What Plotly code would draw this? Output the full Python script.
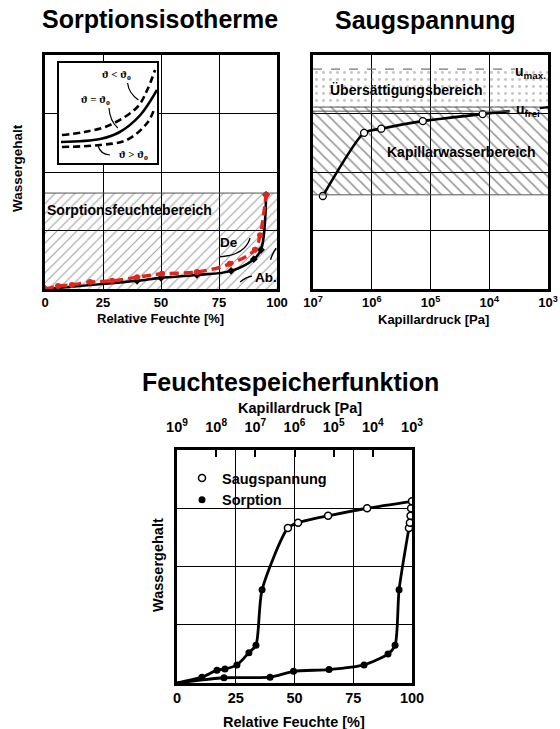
import plotly.graph_objects as go

# ---------------- data ----------------
rh_ticks = [0, 25, 50, 75, 100]
rh_ticktext = ["0", "25", "50", "75", "100"]
pc_ticks = [1e7, 1e6, 1e5, 1e4, 1e3]
pc_ticktext = ["10<sup>7</sup>", "10<sup>6</sup>", "10<sup>5</sup>", "10<sup>4</sup>", "10<sup>3</sup>"]
fsf_pc_ticks = [1e9, 1e8, 1e7, 1e6, 1e5, 1e4, 1e3]
fsf_pc_ticktext = ["10<sup>9</sup>", "10<sup>8</sup>", "10<sup>7</sup>", "10<sup>6</sup>",
                   "10<sup>5</sup>", "10<sup>4</sup>", "10<sup>3</sup>"]
w_grid = [0, 1, 2, 3, 4]
inset_range = [0, 100]

# Sorptionsisotherme: adsorption (Ab.) and desorption (De)
ab_rh = [0, 39.7, 50, 65.5, 80.2, 90, 93.1, 95.3]
ab_w = [0, 0.14, 0.19, 0.24, 0.31, 0.51, 0.67, 1.61]
de_rh = [0, 5.6, 11.6, 19.4, 28.9, 39.7, 50.4, 65.5, 79.7, 90.5, 92.7, 95.3]
de_w = [0, 0.05, 0.07, 0.12, 0.14, 0.20, 0.26, 0.29, 0.43, 0.67, 0.92, 1.61]
sorption_zone = [0, 1.64]

# Inset: temperature dependence
ins_hi_x = [3, 26, 52, 80, 90, 98]
ins_hi_y = [28, 31, 38, 56, 73, 93]
ins_mid_x = [2, 42, 62, 83, 100]
ins_mid_y = [21, 24, 31, 48, 73]
ins_lo_x = [3, 42, 69, 90, 98]
ins_lo_y = [16, 18, 23, 40, 56]

# Saugspannung
saug_p = [6.8e6, 1.35e6, 6.9e5, 1.35e5, 1.3e4]
saug_w = [1.59, 2.67, 2.74, 2.87, 2.99]
saug_end_p = [4.5e3]
saug_end_w = [3.04]
sat_zone = [3.11, 3.76]
cap_zone = [1.61, 3.11]
u_frei = 3.04

# Feuchtespeicherfunktion
left_sorp_rh = [10.6, 17, 20.4, 25.5, 30.6, 33.6, 36.2]
left_sorp_w = [0.10, 0.22, 0.24, 0.31, 0.52, 0.65, 1.60]
left_saug_rh = [47.2, 51.5, 64.3, 80.9]
left_saug_w = [2.66, 2.75, 2.87, 3.00]
right_sorp_rh = [20, 39.6, 49.6, 64.7, 79.6, 89.8, 92.8, 94.5]
right_sorp_w = [0.09, 0.10, 0.20, 0.23, 0.31, 0.50, 0.65, 1.60]
right_saug_rh = [98.7, 99.1, 99.4, 99.6, 100]
right_saug_w = [2.66, 2.75, 2.87, 3.00, 3.12]

# ---------------- figure ----------------
W, H = 560, 729
FONT = "Liberation Sans, Arial, sans-serif"
RED = "#e1261c"


def dx(p):
    return p / W


def dy(p):
    return 1 - p / H


def rect(xr, yr):
    return [xr[0], xr[1], xr[1], xr[0], xr[0]], [yr[0], yr[0], yr[1], yr[1], yr[0]]


fig = go.Figure()

# --- Panel 1 ---
zx, zy = rect([rh_ticks[0], rh_ticks[-1]], sorption_zone)
fig.add_trace(go.Scatter(
    x=zx, y=zy, fill="toself", fillcolor="rgba(0,0,0,0)", mode="lines", line=dict(width=0),
    fillpattern=dict(shape="/", fgcolor="#4a4a4a", size=7, solidity=0.17),
    hoverinfo="skip", showlegend=False, xaxis="x", yaxis="y"))
fig.add_trace(go.Scatter(
    x=ab_rh, y=ab_w, mode="lines+markers", line=dict(color="black", width=2.6, shape="spline"),
    marker=dict(symbol="diamond", size=6, color="black"), showlegend=False, xaxis="x", yaxis="y"))
fig.add_trace(go.Scatter(
    x=de_rh, y=de_w, mode="lines+markers",
    line=dict(color=RED, width=3.4, dash="9px,5px", shape="spline"),
    marker=dict(symbol="circle", size=6, color=RED), showlegend=False, xaxis="x", yaxis="y"))

# --- Inset ---
ix, iy = rect(inset_range, inset_range)
fig.add_trace(go.Scatter(x=ix, y=iy, fill="toself", fillcolor="white", mode="lines",
                         line=dict(width=0), hoverinfo="skip", showlegend=False,
                         xaxis="x5", yaxis="y5"))
for xs, ys, dash in [(ins_hi_x, ins_hi_y, "7px,4px"), (ins_mid_x, ins_mid_y, "solid"),
                     (ins_lo_x, ins_lo_y, "7px,4px")]:
    fig.add_trace(go.Scatter(x=xs, y=ys, mode="lines",
                             line=dict(color="black", width=2.6, dash=dash, shape="spline"),
                             showlegend=False, hoverinfo="skip", xaxis="x5", yaxis="y5"))

# --- Panel 2 ---
sx, sy = rect([pc_ticks[0], pc_ticks[-1]], sat_zone)
fig.add_trace(go.Scatter(
    x=sx, y=sy, fill="toself", fillcolor="rgba(0,0,0,0)", mode="lines", line=dict(width=0),
    fillpattern=dict(shape=".", fgcolor="#8a8a8a", size=7, solidity=0.14),
    hoverinfo="skip", showlegend=False, xaxis="x2", yaxis="y2"))
cx, cy = rect([pc_ticks[0], pc_ticks[-1]], cap_zone)
fig.add_trace(go.Scatter(
    x=cx, y=cy, fill="toself", fillcolor="rgba(0,0,0,0)", mode="lines", line=dict(width=0),
    fillpattern=dict(shape="\\", fgcolor="#333333", size=8, solidity=0.2),
    hoverinfo="skip", showlegend=False, xaxis="x2", yaxis="y2"))
fig.add_trace(go.Scatter(
    x=saug_p + saug_end_p, y=saug_w + saug_end_w, mode="lines",
    line=dict(color="black", width=2.6, shape="spline", smoothing=0.6),
    showlegend=False, hoverinfo="skip", xaxis="x2", yaxis="y2"))
fig.add_trace(go.Scatter(
    x=saug_p, y=saug_w, mode="markers",
    marker=dict(symbol="circle", size=7, color="white", line=dict(color="black", width=1.3)),
    showlegend=False, xaxis="x2", yaxis="y2"))

# --- Panel 3 ---
fig.add_trace(go.Scatter(
    x=[0] + left_sorp_rh + left_saug_rh + right_saug_rh[-1:],
    y=[0] + left_sorp_w + left_saug_w + right_saug_w[-1:], mode="lines",
    line=dict(color="black", width=2.8, shape="spline", smoothing=0.7),
    showlegend=False, hoverinfo="skip", xaxis="x3", yaxis="y3"))
fig.add_trace(go.Scatter(
    x=[0] + right_sorp_rh + right_saug_rh, y=[0] + right_sorp_w + right_saug_w, mode="lines",
    line=dict(color="black", width=2.8, shape="spline", smoothing=0.7),
    showlegend=False, hoverinfo="skip", xaxis="x3", yaxis="y3"))
fig.add_trace(go.Scatter(
    x=left_saug_rh + right_saug_rh, y=left_saug_w + right_saug_w, mode="markers", name="Saugspannung",
    marker=dict(symbol="circle", size=7, color="white", line=dict(color="black", width=1.5)),
    showlegend=True, xaxis="x3", yaxis="y3"))
fig.add_trace(go.Scatter(
    x=left_sorp_rh + right_sorp_rh, y=left_sorp_w + right_sorp_w, mode="markers", name="Sorption",
    marker=dict(symbol="circle", size=7, color="black"),
    showlegend=True, xaxis="x3", yaxis="y3"))
# invisible trace to activate the top pressure axis
fig.add_trace(go.Scatter(x=[fsf_pc_ticks[0], fsf_pc_ticks[-1]], y=[None, None], mode="markers",
                         showlegend=False, hoverinfo="skip", xaxis="x4", yaxis="y3"))

# ---------------- axes ----------------
tick_top = dict(family=FONT, size=13, color="black", weight="bold")
tick_bot = dict(family=FONT, size=14.5, color="black", weight="bold")
common = dict(showline=True, mirror=True, linecolor="black", showgrid=True, gridcolor="black",
              zeroline=False, ticks="", fixedrange=True, automargin=False)
plain = dict(showgrid=False, zeroline=False, fixedrange=True, automargin=False)

fig.update_layout(
    width=W, height=H, margin=dict(l=0, r=0, t=0, b=0, autoexpand=False),
    paper_bgcolor="white", plot_bgcolor="white",
    font=dict(family=FONT, color="black"),
    xaxis=dict(domain=[dx(45), dx(277)], anchor="y", range=[0, 100], tickvals=rh_ticks,
               ticktext=rh_ticktext, tickfont=tick_top, linewidth=2.6, gridwidth=1.3, **common),
    yaxis=dict(domain=[dy(289), dy(55)], anchor="x", range=[0, 4], tickvals=w_grid,
               showticklabels=False, linewidth=2.6, gridwidth=1.3, **common),
    xaxis2=dict(domain=[dx(313), dx(548)], anchor="y2", type="log", range=[7, 3],
                tickvals=pc_ticks, ticktext=pc_ticktext, tickfont=tick_top,
                linewidth=2.6, gridwidth=1.3, **common),
    yaxis2=dict(domain=[dy(289), dy(55)], anchor="x2", range=[0, 4], tickvals=w_grid,
                showticklabels=False, linewidth=2.6, gridwidth=1.3, **common),
    xaxis3=dict(domain=[dx(177), dx(412)], anchor="y3", range=[0, 100], tickvals=rh_ticks,
                ticktext=rh_ticktext, tickfont=tick_bot, linewidth=3, gridwidth=1.4, **common),
    yaxis3=dict(domain=[dy(683), dy(450)], anchor="x3", range=[0, 4], tickvals=w_grid,
                showticklabels=False, linewidth=3, gridwidth=1.4, **common),
    xaxis4=dict(overlaying="x3", anchor="y3", side="top", type="log", range=[9, 3],
                tickvals=fsf_pc_ticks, ticktext=fsf_pc_ticktext, tickfont=tick_bot,
                ticks="inside", ticklen=7, tickwidth=2, tickcolor="black",
                ticklabelstandoff=14, showline=False, **plain),
    xaxis5=dict(domain=[dx(59), dx(157)], anchor="y5", range=inset_range, showline=True, mirror=True,
                linecolor="black", linewidth=2.2, showticklabels=False, ticks="", **plain),
    yaxis5=dict(domain=[dy(163), dy(63)], anchor="x5", range=inset_range, showline=True, mirror=True,
                linecolor="black", linewidth=2.2, showticklabels=False, ticks="", **plain),
    legend=dict(x=dx(182), y=dy(462), xanchor="left", yanchor="top", bgcolor="rgba(0,0,0,0)",
                font=dict(family=FONT, size=14.5, color="black", weight="bold"),
                tracegroupgap=0),
)

# ---------------- shapes ----------------
shapes = [
    dict(type="line", xref="x domain", yref="y", x0=0, x1=1, y0=sorption_zone[1],
         y1=sorption_zone[1], line=dict(color="#555", width=1)),
    dict(type="line", xref="x2 domain", yref="y2", x0=0, x1=0.86, y0=sat_zone[1], y1=sat_zone[1],
         line=dict(color="#777", width=1.2, dash="dash")),
    dict(type="line", xref="x2 domain", yref="y2", x0=0, x1=1, y0=sat_zone[0], y1=sat_zone[0],
         line=dict(color="#555", width=1)),
    dict(type="line", xref="x2 domain", yref="y2", x0=0, x1=0.84, y0=u_frei, y1=u_frei,
         line=dict(color="#555", width=1)),
    dict(type="line", xref="x2 domain", yref="y2", x0=0, x1=1, y0=cap_zone[0], y1=cap_zone[0],
         line=dict(color="#555", width=1)),
    dict(type="line", xref="x2 domain", yref="y2", x0=0.965, x1=1.0, y0=u_frei + 0.05,
         y1=u_frei + 0.07, line=dict(color="black", width=2.2)),
    dict(type="path", xref="x", yref="y", path="M 75.4,0.55 Q 86.2,0.58 88.4,0.87",
         line=dict(color="black", width=1.4)),
    dict(type="path", xref="x", yref="y", path="M 84.1,0.12 Q 86.5,0.2 89.2,0.22",
         line=dict(color="black", width=1.4)),
    dict(type="path", xref="x", yref="y", path="M 97.2,0.5 Q 98.2,0.62 99.6,0.7",
         line=dict(color="black", width=1.4)),
    dict(type="path", xref="x5", yref="y5", path="M 70,80 Q 71,70 81,63",
         line=dict(color="black", width=1.2)),
    dict(type="path", xref="x5", yref="y5", path="M 51,55 Q 52,42 60,35",
         line=dict(color="black", width=1.2)),
    dict(type="path", xref="x5", yref="y5", path="M 40,17 Q 42,9 52,8",
         line=dict(color="black", width=1.2)),
]
fig.update_layout(shapes=shapes)

# ---------------- annotations ----------------
def ann(text, x, y, size, xref="paper", yref="paper", angle=0, family=FONT, bold=True, **kw):
    return dict(text=("<b>%s</b>" % text) if bold else text, x=x, y=y, xref=xref, yref=yref,
                xanchor="center", yanchor="middle", showarrow=False, textangle=angle,
                font=dict(family=family, size=size, color="black"), **kw)


SERIF = "Liberation Serif, DejaVu Serif, serif"
annotations = [
    ann("Sorptionsisotherme", dx(160), dy(19), 25),
    ann("Saugspannung", dx(425), dy(20), 25),
    ann("Feuchtespeicherfunktion", dx(290), dy(382), 25),
    ann("Relative Feuchte [%]", dx(160), dy(318), 13),
    ann("Kapillardruck [Pa]", dx(433), dy(320), 13),
    ann("Wassergehalt", dx(17), dy(168), 13.5, angle=-90),
    ann("Relative Feuchte [%]", dx(294), dy(722), 14.5),
    ann("Kapillardruck [Pa]", dx(300), dy(408), 14.5),
    ann("Wassergehalt", dx(158), dy(565), 14.5, angle=-90),
    ann("Sorptionsfeuchtebereich", 36.6, 1.35, 14, xref="x", yref="y"),
    ann("De", 79.3, 0.80, 13.5, xref="x", yref="y"),
    ann("Ab.", 95.3, 0.2, 13.5, xref="x", yref="y"),
    ann("Übersättigungsbereich", 5.417, 3.40, 14, xref="x2", yref="y2"),
    ann("Kapillarwasserbereich", 4.464, 2.34, 14, xref="x2", yref="y2"),
    ann("u<sub>max.</sub>", dx(530), dy(72), 14),
    ann("u<sub>frei</sub>", dx(528), dy(110), 14),
    ann("ϑ < ϑ<sub>o</sub>", 59, 88, 11, xref="x5", yref="y5", family=SERIF),
    ann("ϑ = ϑ<sub>o</sub>", 37, 63, 11, xref="x5", yref="y5", family=SERIF),
    ann("ϑ > ϑ<sub>o</sub>", 76, 8, 11, xref="x5", yref="y5", family=SERIF),
]
fig.update_layout(annotations=annotations)

fig.write_html("out.html")
